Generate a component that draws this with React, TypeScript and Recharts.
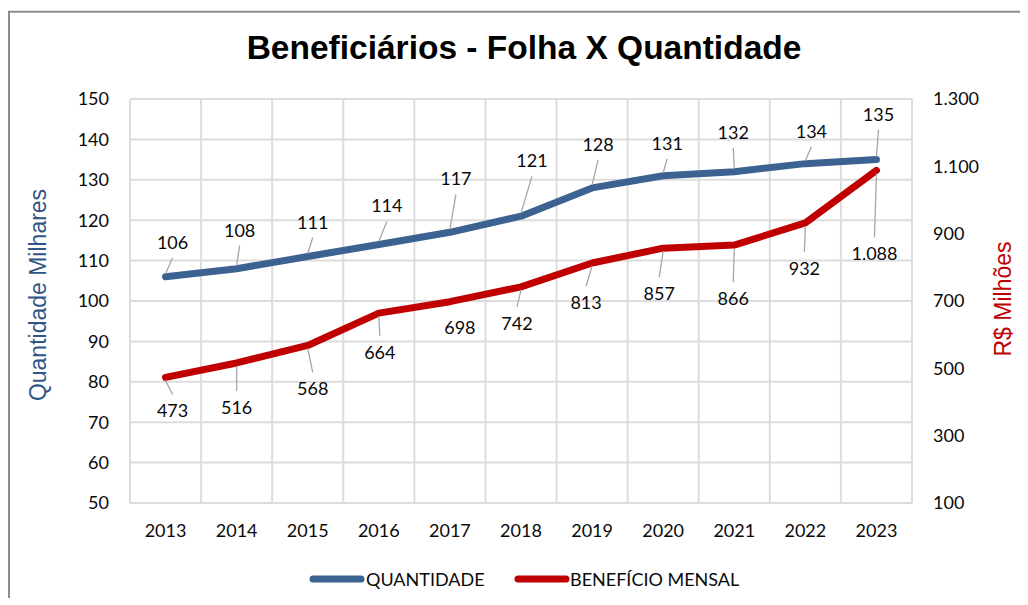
import React from 'react';
import { LineChart, Line, XAxis, YAxis, CartesianGrid, LabelList } from 'recharts';

const anos = ['2013', '2014', '2015', '2016', '2017', '2018', '2019', '2020', '2021', '2022', '2023'];
const quantidade = [106, 108, 111, 114, 117, 121, 128, 131, 132, 134, 135];
const beneficio = [473, 516, 568, 664, 698, 742, 813, 857, 866, 932, 1088];
const ticksQtd = [50, 60, 70, 80, 90, 100, 110, 120, 130, 140, 150];
const ticksBen = [100, 300, 500, 700, 900, 1100, 1300];

// deslocamento (dx, dy) do rótulo em relação ao ponto
const offsetQtd = [[7, -35], [3, -39], [5, -35], [8, -39], [6, -54], [11, -56], [6, -44], [4, -33], [-1, -40], [6, -33], [2, -46]];
const offsetBen = [[7, 33], [0, 44], [5, 43], [1, 39], [10, 25], [-4, 36], [-6, 39], [-4, 45], [-1, 53], [-1, 45], [-2, 83]];

const AZUL = '#3C6292';
const VERMELHO = '#C00000';
const FONTE = 'Lato, sans-serif';

const W = 1020;
const H = 590;
const PLOT_LEFT = 122;
const PLOT_W = 782;

const fmt = (v: number) => String(v).replace(/\B(?=(\d{3})+(?!\d))/g, '.');

const data = anos.map((ano, i) => ({ ano, qtd: quantidade[i], ben: beneficio[i] }));

function makeLabel(offsets: number[][]) {
  return (props: any) => {
    const x = props.x ?? props.viewBox?.x;
    const y = props.y ?? props.viewBox?.y;
    const { value, index } = props;
    if (x == null || y == null) return null;
    const [dx, dy] = offsets[index];
    const lx = x + dx;
    const ly = y + dy;
    const dir = Math.sign(dy);
    const y1 = ly - dir * 16;
    const y2 = y + dir * 3;
    const showLeader = Math.abs(dy) > 25;
    return (
      <g>
        {showLeader && <line x1={lx} y1={y1} x2={x} y2={y2} stroke="#a6a6a6" strokeWidth={1.3} />}
        <text x={lx} y={ly} textAnchor="middle" dominantBaseline="central" fontFamily={FONTE} fontSize={18} fill="#0a0a0a">
          {fmt(value)}
        </text>
      </g>
    );
  };
}

export default function App() {
  const vCoords = Array.from({ length: anos.length + 1 }, (_, i) => PLOT_LEFT + (i * PLOT_W) / anos.length);
  const half = PLOT_W / anos.length / 2;
  const tick = { fill: '#0a0a0a', fontSize: 18, fontFamily: FONTE };

  return (
    <div style={{ position: 'relative', width: W, height: H }}>
      <LineChart width={W} height={H} data={data} margin={{ top: 91, right: 36, bottom: 55, left: 62 }}>
        <CartesianGrid
          yAxisId="left"
          stroke="#dcdcdc"
          strokeWidth={2}
          verticalCoordinatesGenerator={() => vCoords}
        />
        <XAxis
          dataKey="ano"
          height={40}
          padding={{ left: half, right: half }}
          axisLine={false}
          tickLine={false}
          tickSize={0}
          tickMargin={21}
          tick={tick}
          interval={0}
        />
        <YAxis
          yAxisId="left"
          width={60}
          domain={[50, 150]}
          ticks={ticksQtd}
          axisLine={false}
          tickLine={false}
          tickSize={0}
          tickMargin={21}
          tick={tick}
          interval={0}
        />
        <YAxis
          yAxisId="right"
          orientation="right"
          width={80}
          domain={[100, 1300]}
          ticks={ticksBen}
          tickFormatter={fmt}
          axisLine={false}
          tickLine={false}
          tickSize={0}
          tickMargin={21}
          tick={tick}
          interval={0}
        />
        <Line
          yAxisId="right"
          dataKey="ben"
          stroke={VERMELHO}
          strokeWidth={7}
          strokeLinecap="round"
          strokeLinejoin="round"
          dot={false}
          isAnimationActive={false}
        >
          <LabelList dataKey="ben" content={makeLabel(offsetBen)} />
        </Line>
        <Line
          yAxisId="left"
          dataKey="qtd"
          stroke={AZUL}
          strokeWidth={7}
          strokeLinecap="round"
          strokeLinejoin="round"
          dot={false}
          isAnimationActive={false}
        >
          <LabelList dataKey="qtd" content={makeLabel(offsetQtd)} />
        </Line>
      </LineChart>
      <svg width={W} height={597} style={{ position: 'absolute', left: 0, top: 0, pointerEvents: 'none' }}>
        <line x1={1} y1={3.7} x2={1} y2={597} stroke="#8c8c8c" strokeWidth={2} />
        <line x1={0} y1={3.7} x2={W} y2={3.7} stroke="#8c8c8c" strokeWidth={2} />
        <text x={516} y={51} textAnchor="middle" fontFamily="'Liberation Sans', Arial, sans-serif" fontWeight="bold" fontSize={33.5} fill="#000">
          Beneficiários - Folha X Quantidade
        </text>
        <text
          x={30}
          y={287}
          transform="rotate(-90 30 287)"
          textAnchor="middle"
          dominantBaseline="central"
          fontFamily="'Liberation Sans', Arial, sans-serif"
          fontSize={23}
          fill="#2F5587"
        >
          Quantidade Milhares
        </text>
        <text
          x={995}
          y={291}
          transform="rotate(-90 995 291)"
          textAnchor="middle"
          dominantBaseline="central"
          fontFamily="'Liberation Sans', Arial, sans-serif"
          fontSize={23}
          fill={VERMELHO}
        >
          R$ Milhões
        </text>
        <line x1={305} y1={571} x2={353} y2={571} stroke={AZUL} strokeWidth={7} strokeLinecap="round" />
        <text x={358} y={577.5} fontFamily={FONTE} fontSize={18} fill="#0a0a0a">QUANTIDADE</text>
        <line x1={510} y1={571} x2={558} y2={571} stroke={VERMELHO} strokeWidth={7} strokeLinecap="round" />
        <text x={562} y={577.5} fontFamily={FONTE} fontSize={18} fill="#0a0a0a">BENEFÍCIO MENSAL</text>
      </svg>
    </div>
  );
}
